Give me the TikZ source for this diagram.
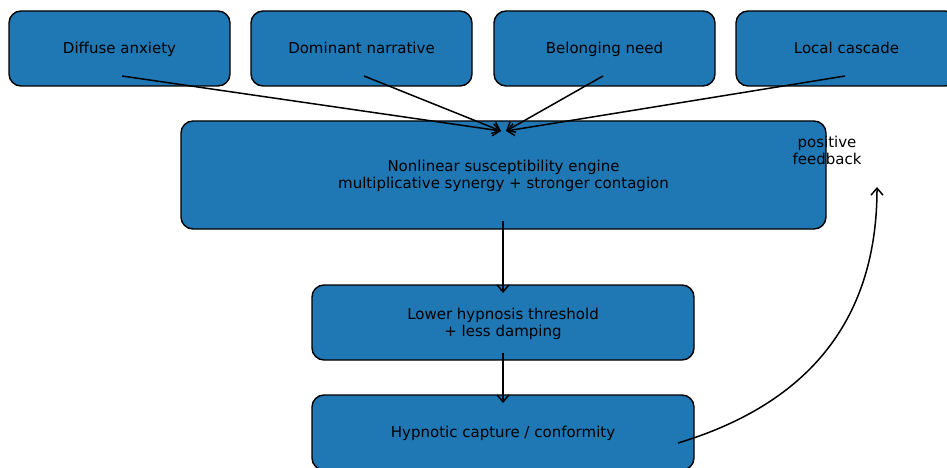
\documentclass[tikz,border=0pt]{standalone}
\usepackage{fontspec}
\setmainfont{DejaVu Sans}
\usetikzlibrary{arrows.meta,calc}
\definecolor{tabblue}{HTML}{1F77B4}
\newcommand\mystr{\rule[-3.5pt]{0pt}{17pt}}
\begin{document}
\begin{tikzpicture}[x=1pt,y=-1pt,
  box/.style={draw=black,line width=1.4pt,fill=tabblue,rounded corners=12pt,
    inner sep=0pt,align=center,font=\fontsize{15}{17}\selectfont},
  conn/.style={draw=black,line width=1.5pt,-{Straight Barb[length=7pt,width=12pt,line width=1.5pt]}},
  lbl/.style={align=center,font=\fontsize{15}{17}\selectfont,inner sep=0pt}]
\useasboundingbox (0,0) rectangle (947,468);
\clip (0,0) rectangle (947,468);
\node[box,minimum width=221pt,minimum height=75pt] (a1) at (119.5,48.5) {\mystr Diffuse anxiety};
\node[box,minimum width=221pt,minimum height=75pt] (a2) at (361.5,48.5) {\mystr Dominant narrative};
\node[box,minimum width=221pt,minimum height=75pt] (a3) at (604.5,48.5) {\mystr Belonging need};
\node[box,minimum width=221pt,minimum height=75pt] (a4) at (846.5,48.5) {\mystr Local cascade};
\node[box,minimum width=645pt,minimum height=108pt] (eng) at (503.5,175) {\mystr Nonlinear susceptibility engine\\\mystr multiplicative synergy + stronger contagion};
\node[box,minimum width=382pt,minimum height=75pt] (low) at (503,322.5) {\mystr Lower hypnosis threshold\\\mystr + less damping};
\node[box,minimum width=382pt,minimum height=75pt] (cap) at (503,432.5) {\mystr Hypnotic capture / conformity};
\node[lbl] (pf) at (827,150.5) {\mystr positive\\\mystr feedback};
% connector end points
\coordinate (s1) at ($(a1)+(2.5,27.5)$);
\coordinate (s2) at ($(a2)+(2.5,27.5)$);
\coordinate (s3) at ($(a3)+(-1.5,27.5)$);
\coordinate (s4) at ($(a4)+(-1.5,27.5)$);
\coordinate (eL) at (501,131);
\coordinate (eR) at (506,131);
\coordinate (es) at ($(eng)+(-0.5,46)$);
\coordinate (le) at ($(low)+(0,-29.5)$);
\coordinate (ls) at ($(low)+(0,30.5)$);
\coordinate (ce) at ($(cap)+(0,-29.5)$);
\coordinate (cs) at ($(cap)+(175,10.5)$);
\coordinate (fb) at (877,187);
\draw[conn] (s1) -- (eL);
\draw[conn] (s2) -- (eL);
\draw[conn] (s3) -- (eR);
\draw[conn] (s4) -- (eR);
\draw[conn] (es) -- (le);
\draw[conn] (ls) -- (ce);
\draw[conn] (cs) .. controls (810.7,403) and (877,317.7) .. (fb);
\end{tikzpicture}
\end{document}
